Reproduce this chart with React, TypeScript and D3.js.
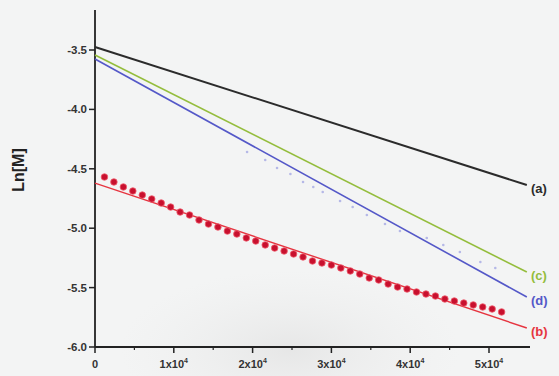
import React from 'react';
import * as d3 from 'd3';

// fitted lines: [start, end] in time (s) and Ln[M]
const lineTimes = [0, 54800];
const lineA = [-3.475, -4.636];
const lineC = [-3.542, -5.369];
const lineD = [-3.576, -5.579];
const lineB = [-4.62, -5.84];

// measured points for (b)
const dotTimes = [
  1200, 2400, 3600, 4800, 6000, 7200, 8400, 9600, 10800, 12000,
  13200, 14400, 15600, 16800, 18000, 19200, 20400, 21600, 22800, 24000,
  25200, 26400, 27600, 28800, 30000, 31200, 32400, 33600, 34800, 36000,
  37200, 38400, 39600, 40800, 42000, 43200, 44400, 45600, 46800, 48000,
  49200, 50400, 51600,
];
const dotValues = [
  -4.569, -4.611, -4.653, -4.687, -4.721, -4.754, -4.788, -4.822, -4.864, -4.889,
  -4.931, -4.965, -4.99, -5.024, -5.049, -5.082, -5.108, -5.141, -5.167, -5.192,
  -5.217, -5.242, -5.276, -5.293, -5.31, -5.335, -5.36, -5.386, -5.419, -5.436,
  -5.47, -5.495, -5.512, -5.537, -5.554, -5.571, -5.596, -5.613, -5.63, -5.646,
  -5.663, -5.68, -5.705,
];

// faint measured points for (d)
const faintTimes = [
  19300, 21600, 23100, 24800, 26400, 27700, 28900, 31100, 32700, 34500,
  36800, 38700, 42100, 44200, 46300, 48900, 50800,
];
const faintValues = [
  -4.359, -4.426, -4.493, -4.544, -4.611, -4.653, -4.695, -4.771, -4.822, -4.889,
  -4.965, -5.024, -5.082, -5.141, -5.2, -5.285, -5.335,
];

const yTicks = [-3.5, -4.0, -4.5, -5.0, -5.5, -6.0];
const xTicks = [0, 10000, 20000, 30000, 40000, 50000];
const xTickLabels = ['0', '1x10', '2x10', '3x10', '4x10', '5x10'];
const xMinorTicks = [5000, 15000, 25000, 35000, 45000];

const series = [
  { label: '(a)', values: lineA, color: '#2b2b2b', width: 2 },
  { label: '(c)', values: lineC, color: '#94bd3c', width: 1.6 },
  { label: '(d)', values: lineD, color: '#5458c8', width: 1.6 },
  { label: '(b)', values: lineB, color: '#e63540', width: 1.4 },
];

const App = () => {
  const width = 559;
  const height = 376;

  const x = d3.scaleLinear().domain([0, 55000]).range([95, 528.4]);
  const y = d3.scaleLinear().domain([-6, -3.5]).range([347, 50]);

  const line = d3.line<[number, number]>()
    .x(d => x(d[0]))
    .y(d => y(d[1]));

  const font = 'Arial, "Liberation Sans", sans-serif';

  return (
    <svg width={width} height={height} style={{ position: 'absolute', left: 0, top: 0 }}>
      <defs>
        <radialGradient id="shade" cx="0.5" cy="0.5" r="0.5">
          <stop offset="0%" stopColor="#dcdcdc" stopOpacity={0.55} />
          <stop offset="100%" stopColor="#e8e8e8" stopOpacity={0} />
        </radialGradient>
      </defs>
      <rect width={width} height={height} fill="#f3f4f4" />
      <ellipse cx={290} cy={350} rx={170} ry={80} fill="url(#shade)" />

      {/* axes */}
      <line x1={x(0)} x2={x(0)} y1={10} y2={y(-6)} stroke="#222" strokeWidth={1.8} />
      <line x1={x(0)} x2={530} y1={y(-6)} y2={y(-6)} stroke="#222" strokeWidth={1.8} />

      {yTicks.map(t => (
        <g key={t}>
          <line x1={x(0) - 6} x2={x(0)} y1={y(t)} y2={y(t)} stroke="#222" strokeWidth={1.5} />
          <text x={87} y={y(t)} dy="0.35em" textAnchor="end" fontFamily={font}
            fontSize={11.5} fontWeight="bold" fill="#333">{t.toFixed(1)}</text>
        </g>
      ))}

      {xTicks.map((t, i) => (
        <g key={t}>
          <line x1={x(t)} x2={x(t)} y1={y(-6)} y2={y(-6) + 6} stroke="#222" strokeWidth={1.5} />
          <text x={x(t)} y={368} textAnchor="middle" fontFamily={font}
            fontSize={11} fontWeight="bold" fill="#333">
            {xTickLabels[i]}
            {i > 0 && <tspan fontSize={7} dy={-5}>4</tspan>}
          </text>
        </g>
      ))}
      {xMinorTicks.map(t => (
        <line key={t} x1={x(t)} x2={x(t)} y1={y(-6)} y2={y(-6) + 3} stroke="#222" strokeWidth={1.2} />
      ))}

      <text transform="translate(24,170) rotate(-90)" textAnchor="middle" fontFamily={font}
        fontSize={16} fontWeight="bold" fill="#222">Ln[M]</text>

      {/* faint scatter for (d) */}
      {faintTimes.map((t, i) => (
        <circle key={t} cx={x(t)} cy={y(faintValues[i])} r={1.3} fill="#6a6ed6" opacity={0.45} />
      ))}

      {/* fitted lines */}
      {series.map(s => {
        const pts: [number, number][] = lineTimes.map((t, i) => [t, s.values[i]]);
        return (
          <g key={s.label}>
            <path d={line(pts) || ''} fill="none" stroke={s.color} strokeWidth={s.width} />
            <text x={531} y={y(s.values[1]) + 3} dy="0.35em" fontFamily={font}
              fontSize={13} fontWeight="bold" fill={s.color}>{s.label}</text>
          </g>
        );
      })}

      {/* measured points (b) */}
      {dotTimes.map((t, i) => (
        <circle key={t} cx={x(t)} cy={y(dotValues[i])} r={3.3} fill="#c8102e"
          stroke="#f06070" strokeWidth={0.8} />
      ))}
    </svg>
  );
};

export default App;
